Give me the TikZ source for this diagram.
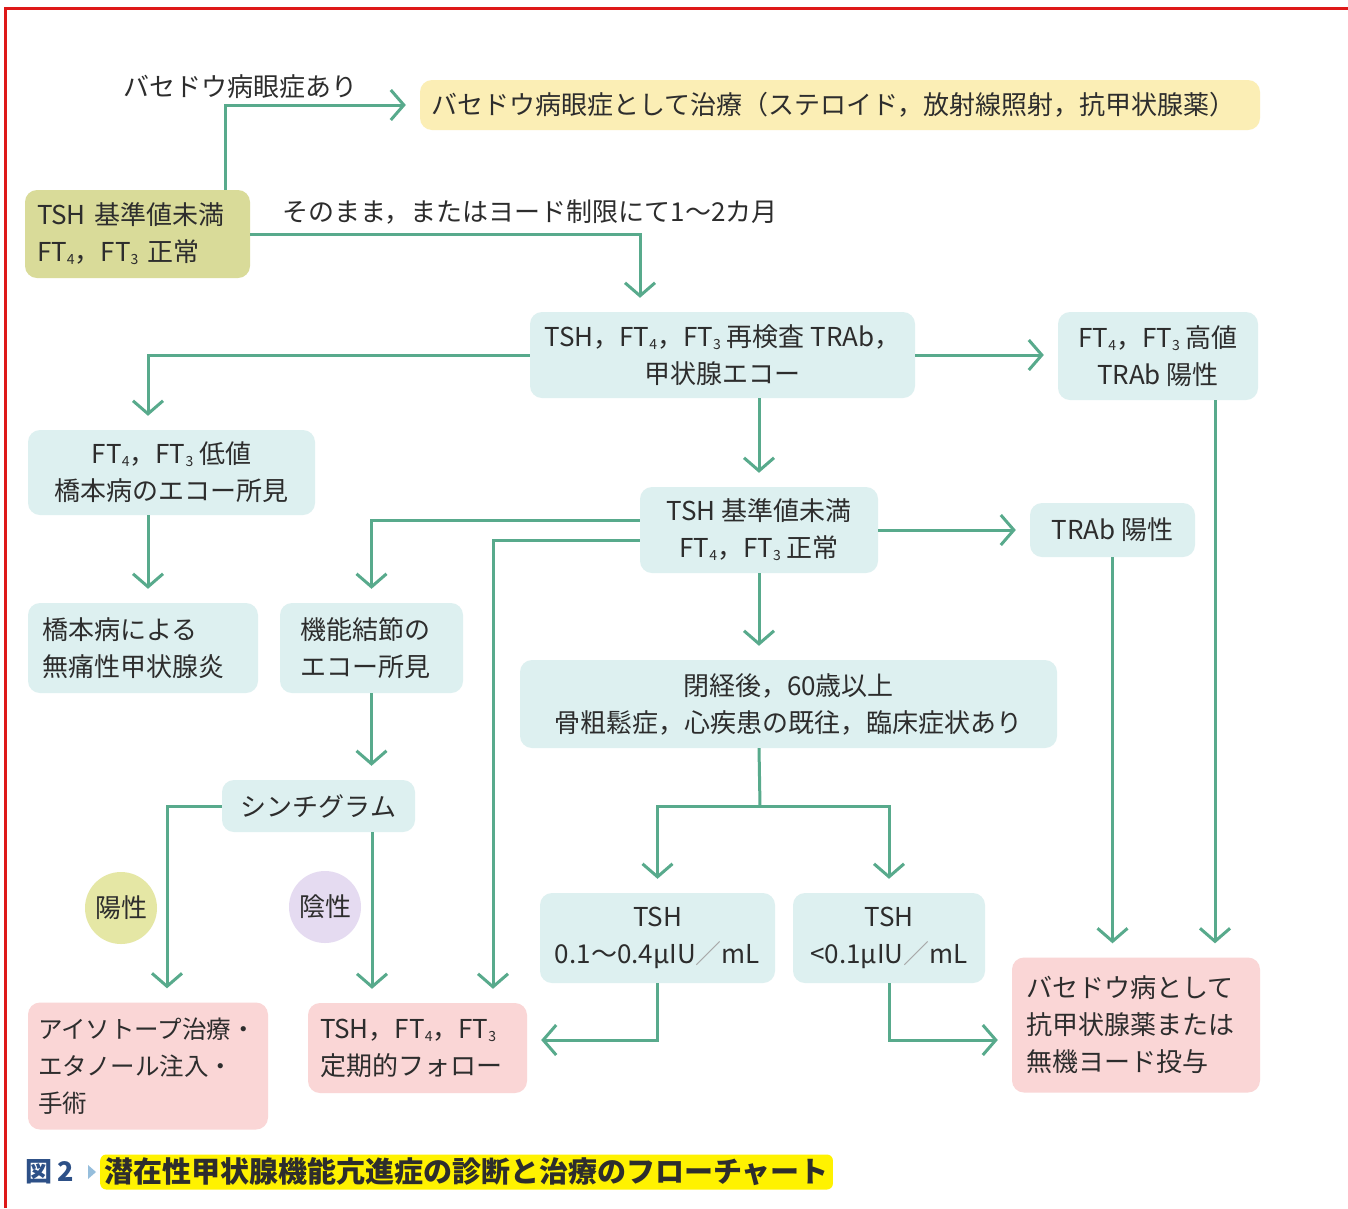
\documentclass[tikz,border=0pt]{standalone}
\usepackage{fontspec}
\setmainfont{Noto Sans CJK JP}
\usetikzlibrary{arrows.meta,calc}
\definecolor{txt}{RGB}{45,45,45}
\definecolor{olivec}{RGB}{217,219,153}
\definecolor{yelc}{RGB}{251,238,181}
\definecolor{cyanc}{RGB}{221,240,240}
\definecolor{pinkc}{RGB}{250,214,214}
\definecolor{lavc}{RGB}{229,219,241}
\definecolor{posc}{RGB}{229,231,165}
\definecolor{lineg}{RGB}{88,170,140}
\definecolor{redb}{RGB}{222,24,24}
\definecolor{capblue}{RGB}{45,80,135}
\definecolor{captri}{RGB}{150,190,220}
\definecolor{hilite}{RGB}{255,242,0}
\newcommand{\sbs}[1]{\raisebox{-3pt}{\fontsize{14pt}{14pt}\selectfont #1}}
\newcommand{\lslash}{\textcolor{gray!70}{／}}
\tikzset{
  base/.style={rounded corners=12pt, inner sep=0pt, text=txt,
    font=\fontsize{26pt}{37pt}\selectfont, align=center},
  cyanbox/.style={base, fill=cyanc},
  pinkbox/.style={base, fill=pinkc},
  lbl/.style={inner sep=0pt, text=txt, font=\fontsize{26pt}{37pt}\selectfont},
  ln/.style={draw=lineg, line width=3pt},
  arr/.style={ln, -{Straight Barb[length=13pt,width=30pt,line width=3pt]}, shorten >=14pt},
}
\begin{document}
\begin{tikzpicture}[x=1pt,y=-1pt]
\useasboundingbox (0,0) rectangle (1348,1208);
\fill[white] (0,0) rectangle (1348,1208);
\draw[redb, line width=3pt] (5,1208) -- (5,8) -- (1348,8);

% nodes
\node[base, fill=olivec, minimum width=225pt, minimum height=88pt, text width=201pt, align=left]
  (start) at (137.5,234) {TSH 基準値未満\\FT\sbs{4}，FT\sbs{3} 正常};
\node[base, fill=yelc, minimum width=840pt, minimum height=50pt, text width=818pt, align=left]
  (eye) at (840,105) {バセドウ病眼症として治療（ステロイド，放射線照射，抗甲状腺薬）};
\node[lbl] (eyelab) at (240,87) {バセドウ病眼症あり};
\node[lbl] (waitlab) at (530,212) {そのまま，またはヨード制限にて1〜2カ月};

\node[cyanbox, minimum width=385pt, minimum height=86pt] (recheck) at (722.5,355)
  {TSH，FT\sbs{4}，FT\sbs{3} 再検査 TRAb，\\甲状腺エコー};
\node[cyanbox, minimum width=200pt, minimum height=88pt] (high) at (1158,356)
  {FT\sbs{4}，FT\sbs{3} 高値\\TRAb 陽性};
\node[cyanbox, minimum width=287pt, minimum height=85pt] (low) at (171.5,472.5)
  {FT\sbs{4}，FT\sbs{3} 低値\\橋本病のエコー所見};
\node[cyanbox, minimum width=238pt, minimum height=86pt] (normal2) at (759,530)
  {TSH 基準値未満\\FT\sbs{4}，FT\sbs{3} 正常};
\node[cyanbox, minimum width=165pt, minimum height=54pt] (trab) at (1112.5,530) {TRAb 陽性};
\node[cyanbox, minimum width=230pt, minimum height=90pt, text width=202pt, align=left]
  (hashi) at (143,648) {橋本病による\\無痛性甲状腺炎};
\node[cyanbox, minimum width=183pt, minimum height=90pt, text width=143pt, align=left]
  (nodule) at (371.5,648) {機能結節の\\エコー所見};
\node[cyanbox, minimum width=537pt, minimum height=88pt] (meno) at (788.5,704)
  {閉経後，60歳以上\\骨粗鬆症，心疾患の既往，臨床症状あり};
\node[cyanbox, minimum width=193pt, minimum height=52pt] (scinti) at (318.5,806) {シンチグラム};
\node[base, circle, fill=posc, minimum size=72pt] (pos) at (121,908) {陽性};
\node[base, circle, fill=lavc, minimum size=72pt] (neg) at (325,907) {陰性};
\node[cyanbox, minimum width=235pt, minimum height=90pt] (tsh1) at (657.5,938)
  {TSH\\0.1〜0.4\textit{μ}IU\lslash mL};
\node[cyanbox, minimum width=192pt, minimum height=90pt] (tsh2) at (889,938)
  {TSH\\<0.1\textit{μ}IU\lslash mL};
\node[pinkbox, minimum width=248pt, minimum height=135pt, text width=220pt, align=left]
  (graves) at (1136,1025) {バセドウ病として\\抗甲状腺薬または\\無機ヨード投与};
\node[pinkbox, minimum width=240pt, minimum height=127pt, text width=220pt, align=left,
  font=\fontsize{24.5pt}{37pt}\selectfont]
  (iso) at (148,1066) {アイソトープ治療・\\エタノール注入・\\手術};
\node[pinkbox, minimum width=219pt, minimum height=90pt, text width=195pt, align=left]
  (follow) at (417.5,1048) {TSH，FT\sbs{4}，FT\sbs{3}\\定期的フォロー};

% connectors
\draw[arr] ([xshift=87.5pt]start.north) |- (eye.west);
\draw[arr] (start.east) -| ([xshift=-82.5pt]recheck.north);
\draw[arr] (recheck.west) -| ([xshift=-23.5pt]low.north);
\draw[arr] (recheck.east) -- (recheck.east -| high.west);
\draw[arr] (recheck.south -| normal2.north) -- (normal2.north);
\draw[arr] ([yshift=10pt]normal2.west) -| (nodule.north);
\draw[arr] ([yshift=-10pt]normal2.west) -| ([xshift=75.5pt]follow.north);
\draw[arr] (normal2.east) -- (normal2.east -| trab.west);
\draw[arr] (normal2.south) -- (normal2.south |- meno.north);
\draw[arr] ([xshift=5pt]hashi.north |- low.south) -- ([xshift=5pt]hashi.north);
\draw[arr] (nodule.south) -- (nodule.south |- scinti.north);
\draw[arr] (scinti.west) -| ([xshift=19pt]iso.north);
\draw[arr] ([xshift=53.5pt]scinti.south) -- ([xshift=53.5pt]scinti.south |- follow.north);
\coordinate (split) at (760,806);
\draw[ln] (normal2.south |- meno.south) -- (split);
\draw[arr] (split) -| (tsh1.north);
\draw[arr] (split) -| (tsh2.north);
\draw[arr] (tsh1.south) |- ([yshift=8pt]follow.east);
\draw[arr] (tsh2.south) |- ([yshift=-15pt]graves.west);
\draw[arr] (trab.south) -- (trab.south |- graves.north);
\draw[arr] ([xshift=57pt]high.south) -- ([xshift=57pt]high.south |- graves.north);

% caption
\node[inner sep=0pt, anchor=west, text=capblue, font=\fontsize{27pt}{30pt}\selectfont\bfseries]
  (capnum) at (25,1172) {図\hspace{5pt}2};
\fill[captri] (88,1165) -- (96,1172) -- (88,1179) -- cycle;
\node[anchor=west, fill=hilite, rounded corners=6pt, inner xsep=4pt, inner ysep=2pt, text=txt,
  font=\fontsize{29pt}{30pt}\selectfont\bfseries, minimum height=35pt]
  (captxt) at (100,1172) {潜在性甲状腺機能亢進症の診断と治療のフローチャート};
\end{tikzpicture}
\end{document}
